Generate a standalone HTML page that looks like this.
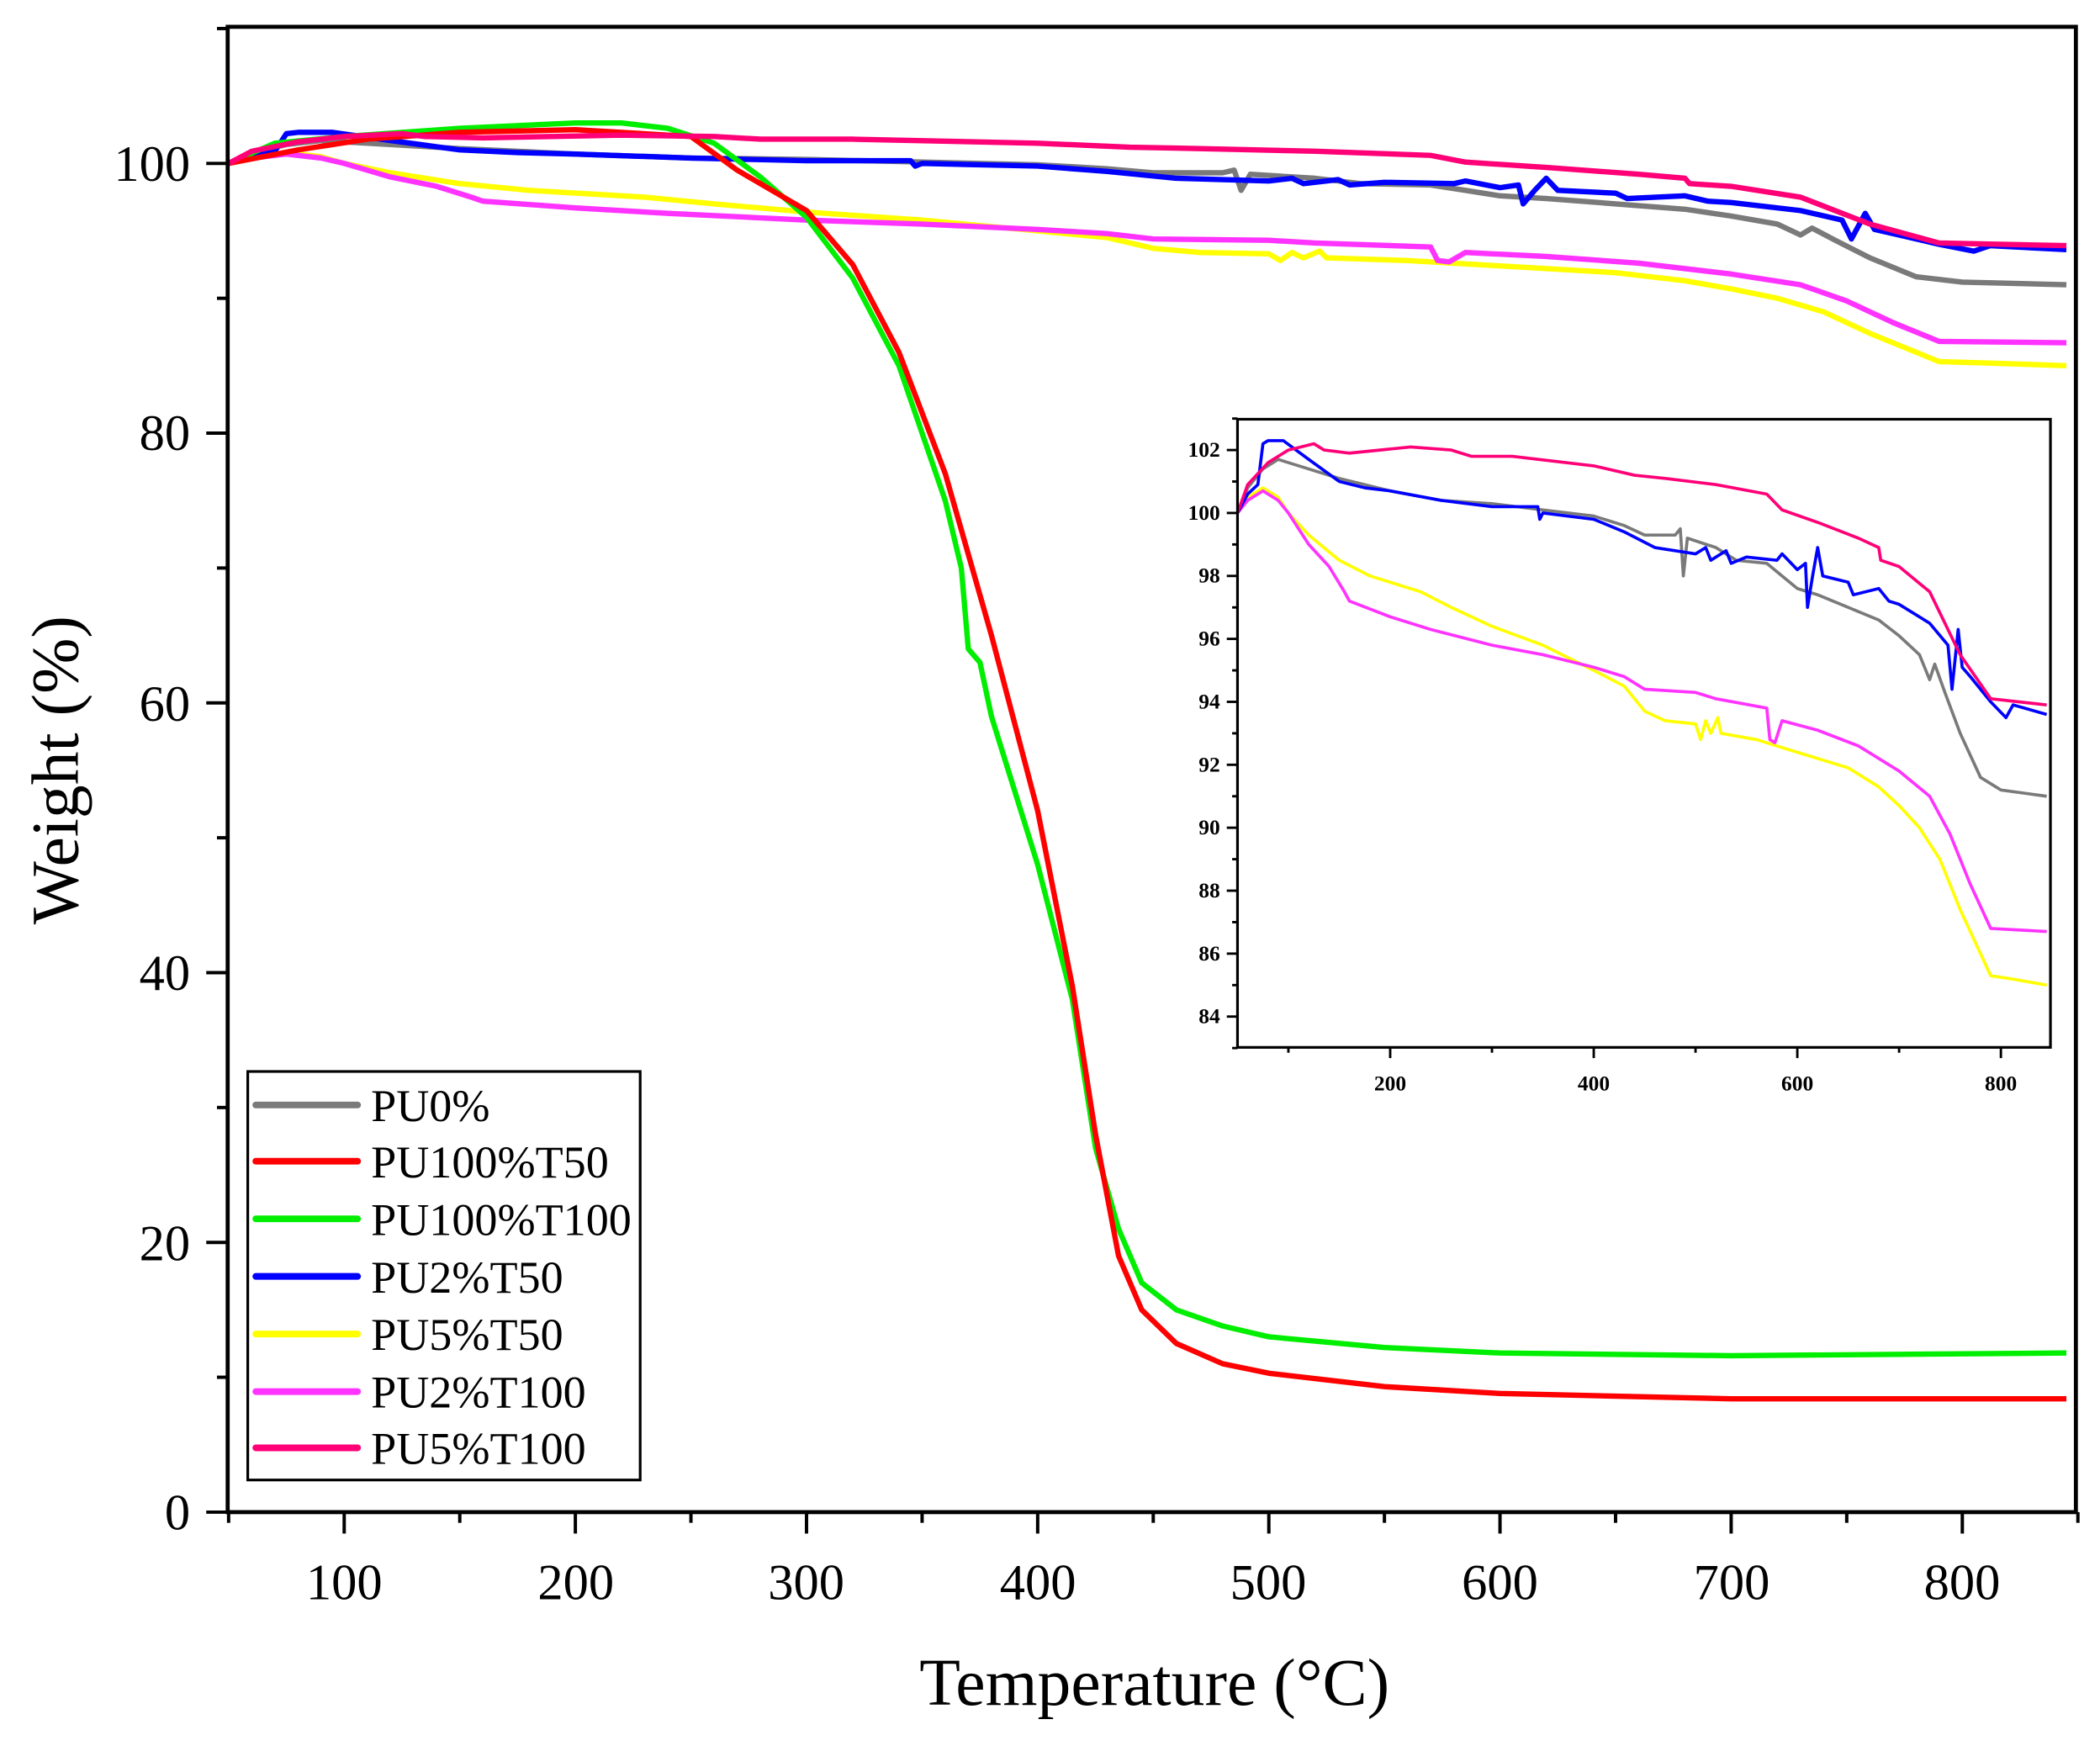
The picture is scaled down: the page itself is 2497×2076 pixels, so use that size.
<!DOCTYPE html>
<html><head><meta charset="utf-8"><style>
html,body{margin:0;padding:0;background:#fff}
svg{display:block}
text{font-family:"Liberation Serif",serif;fill:#000}
</style></head><body>
<svg id="s" width="2497" height="2076" viewBox="0 0 1568 1303.6" xmlns="http://www.w3.org/2000/svg">
<rect x="0" y="0" width="1568" height="1304" fill="#fff"/>
<g id="main"></g>
<g id="ticks" stroke="#000" stroke-width="2.5"></g>
<rect x="170" y="20" width="1380" height="1109" fill="none" stroke="#000" stroke-width="3"/>
<g font-size="38" text-anchor="middle">
<text x="257" y="1194">100</text><text x="430" y="1194">200</text><text x="602" y="1194">300</text><text x="775" y="1194">400</text><text x="947" y="1194">500</text><text x="1120" y="1194">600</text><text x="1293" y="1194">700</text><text x="1465" y="1194">800</text>
</g>
<g font-size="38" text-anchor="end">
<text x="142" y="1142">0</text><text x="142" y="941">20</text><text x="142" y="739">40</text><text x="142" y="538">60</text><text x="142" y="336">80</text><text x="142" y="135">100</text>
</g>
<text x="862" y="1273" font-size="50" text-anchor="middle">Temperature (°C)</text>
<text transform="translate(58,575) rotate(-90)" font-size="50" text-anchor="middle">Weight (%)</text>
<rect x="924" y="313" width="607" height="469" fill="#fff"/>
<g id="inset"></g>
<g id="iticks" stroke="#000" stroke-width="1.8"></g>
<rect x="924" y="313" width="607" height="469" fill="none" stroke="#000" stroke-width="2"/>
<g font-size="16" font-weight="bold" text-anchor="end" id="iyl"></g>
<g font-size="16" font-weight="bold" text-anchor="middle">
<text x="1038" y="814">200</text><text x="1190" y="814">400</text><text x="1342" y="814">600</text><text x="1494" y="814">800</text>
</g>
<rect x="185" y="800" width="293" height="305" fill="#fff" stroke="#000" stroke-width="2"/>
<g stroke-width="5" stroke-linecap="round">
<line x1="191" y1="825" x2="267" y2="825" stroke="#7a7a7a"/>
<line x1="191" y1="867" x2="267" y2="867" stroke="#ff0000"/>
<line x1="191" y1="910" x2="267" y2="910" stroke="#00ee00"/>
<line x1="191" y1="953" x2="267" y2="953" stroke="#0000ff"/>
<line x1="191" y1="996" x2="267" y2="996" stroke="#ffff00"/>
<line x1="191" y1="1039" x2="267" y2="1039" stroke="#ff33ff"/>
<line x1="191" y1="1081" x2="267" y2="1081" stroke="#ff0077"/>
</g>
<g font-size="34">
<text x="277" y="837">PU0%</text><text x="277" y="879">PU100%T50</text><text x="277" y="922">PU100%T100</text><text x="277" y="965">PU2%T50</text><text x="277" y="1008">PU5%T50</text><text x="277" y="1051">PU2%T100</text><text x="277" y="1093">PU5%T100</text>
</g>
</svg>
<script>
var D={
gray:[[50,100],[60,100.8],[75,101.4],[90,101.7],[100,101.6],[150,101.1],[200,100.7],[250,100.4],[300,100.3],[350,100.1],[400,99.9],[430,99.6],[450,99.3],[480,99.3],[485,99.5],[488,98.0],[492,99.2],[520,98.9],[540,98.5],[570,98.4],[585,98.0],[600,97.6],[620,97.4],[650,97.0],[680,96.6],[700,96.1],[720,95.5],[730,94.7],[735,95.2],[745,94.3],[760,93.0],[780,91.6],[800,91.2],[845,91.0]],
red:[[50,100],[80,101],[110,101.8],[150,102.3],[200,102.5],[250,102],[270,99.5],[300,96.5],[320,92.5],[340,86],[360,77],[380,65],[400,52],[415,39],[425,28],[435,19],[445,15],[460,12.5],[480,11],[500,10.3],[550,9.3],[600,8.8],[700,8.4],[845,8.4]],
green:[[50,100],[70,101.5],[100,102],[150,102.6],[200,103],[220,103],[240,102.6],[260,101.5],[280,99],[300,96],[320,91.5],[340,85],[360,75],[367,70],[370,64],[375,63],[380,59],[400,48],[415,38],[425,27],[435,21],[445,17],[460,15],[480,13.8],[500,13],[550,12.2],[600,11.8],[700,11.6],[845,11.8]],
blue:[[50,100],[60,100.6],[70,100.9],[75,102.2],[80,102.3],[95,102.3],[120,101.7],[150,101],[175,100.8],[200,100.7],[250,100.4],[300,100.2],[345,100.2],[347,99.8],[350,100],[400,99.8],[430,99.4],[460,98.9],[500,98.7],[510,98.9],[515,98.5],[530,98.8],[535,98.4],[550,98.6],[580,98.5],[585,98.7],[600,98.2],[608,98.4],[610,97.0],[615,98.0],[620,98.9],[625,98],[650,97.8],[655,97.4],[680,97.6],[690,97.2],[700,97.1],[730,96.5],[748,95.8],[752,94.4],[758,96.3],[762,95.1],[770,94.8],[790,94],[805,93.5],[812,93.9],[845,93.6]],
yellow:[[50,100],[60,100.5],[75,100.8],[90,100.5],[100,100],[120,99.3],[150,98.5],[180,98],[230,97.5],[260,97],[300,96.4],[350,95.8],[400,95],[430,94.5],[450,93.7],[470,93.4],[500,93.3],[505,92.8],[510,93.4],[515,93.0],[522,93.5],[525,93],[560,92.8],[590,92.5],[650,91.9],[680,91.3],[700,90.7],[720,90.0],[740,89.0],[760,87.4],[790,85.3],[810,85.2],[845,85.0]],
mag:[[50,100],[60,100.4],[75,100.7],[90,100.4],[100,100],[120,99],[140,98.3],[155,97.5],[160,97.2],[200,96.7],[240,96.3],[300,95.8],[350,95.5],[400,95.1],[430,94.8],[450,94.4],[500,94.3],[520,94.1],[570,93.8],[573,92.8],[578,92.7],[585,93.4],[620,93.1],[660,92.6],[700,91.8],[730,91.0],[750,89.8],[770,88.2],[790,86.8],[845,86.7]],
pink:[[50,100],[60,100.9],[80,101.6],[100,102],[125,102.2],[135,102],[160,101.9],[220,102.1],[260,102],[280,101.8],[320,101.8],[400,101.5],[440,101.2],[470,101.1],[520,100.9],[570,100.6],[585,100.1],[620,99.7],[660,99.2],[680,98.9],[682,98.5],[700,98.3],[730,97.5],[760,95.5],[790,94.1],[845,93.9]]};
var C={gray:"#7a7a7a",red:"#ff0000",green:"#00ee00",blue:"#0000ff",yellow:"#ffff00",mag:"#ff33ff",pink:"#ff0077"};
var ns="http://www.w3.org/2000/svg";
function mk(t,a,p){var e=document.createElementNS(ns,t);for(var k in a)e.setAttribute(k,a[k]);p.appendChild(e);return e;}
function path(d,fx,fy){return d.map(function(p,i){return (i?"L":"M")+fx(p[0]).toFixed(1)+","+fy(p[1]).toFixed(1);}).join("");}
var mx=function(t){return 170.7+(t-50)*1.726},my=function(w){return 1129-w*10.07};
var G=document.getElementById("main");
["gray","yellow","mag","blue","green","red","pink"].forEach(function(k){mk("path",{d:path(D[k],mx,my),fill:"none",stroke:C[k],"stroke-width":4,"stroke-linejoin":"round"},G);});
var ix=function(t){return 924+(t-50)*0.76},iy=function(w){return 383+(100-w)*23.5};
var I=document.getElementById("inset");
["gray","yellow","mag","blue","pink"].forEach(function(k){mk("path",{d:path(D[k],ix,iy),fill:"none",stroke:C[k],"stroke-width":2.3,"stroke-linejoin":"round"},I);});
var T=document.getElementById("ticks");
for(var t=50;t<=850;t+=50){var x=mx(t);mk("line",{x1:x,y1:1129,x2:x,y2:t%100?1137:1145},T);}
for(var w=0;w<=110;w+=10){var y=my(w);mk("line",{x1:170,y1:y,x2:w%20?162:154,y2:y},T);}
var IT=document.getElementById("iticks"),IL=document.getElementById("iyl");
for(var t=100;t<=850;t+=100){var x=ix(t);mk("line",{x1:x,y1:782,x2:x,y2:t%200?786:790},IT);}
for(var w=83;w<=103;w+=1){var y=iy(w);mk("line",{x1:924,y1:y,x2:w%2?920:916,y2:y},IT);if(w%2==0&&w>=84&&w<=102){var e=mk("text",{x:911,y:y+5},IL);e.textContent=w;}}
</script>
</body></html>
